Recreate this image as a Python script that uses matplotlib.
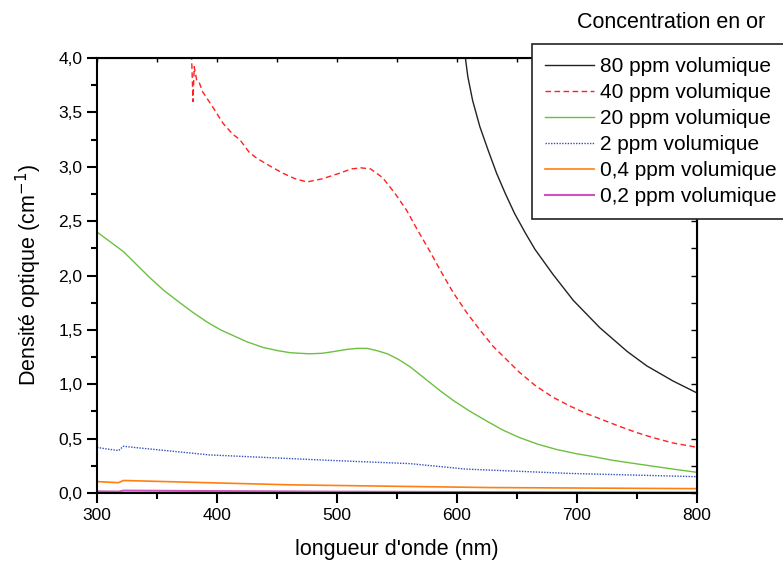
import matplotlib
matplotlib.use("Agg")
import matplotlib.pyplot as plt
from matplotlib.ticker import MultipleLocator, FuncFormatter

plt.rcParams['font.family'] = ['Liberation Sans', 'DejaVu Sans']

# 80 ppm (black)
wl_80 = [604, 607, 609, 613, 619, 626, 633, 640, 648, 657, 665, 680, 697, 719, 742, 758, 780, 800]
od_80 = [4.25, 4.0, 3.83, 3.61, 3.37, 3.15, 2.94, 2.76, 2.57, 2.39, 2.24, 2.01, 1.77, 1.52, 1.30,
         1.17, 1.03, 0.92]

# 40 ppm (red dashed)
wl_40 = [378, 379, 380, 381, 383, 385, 388, 397, 405, 413, 419, 427, 433, 442, 455, 465, 475, 488,
         502, 512, 520, 528, 538, 548, 558, 567, 577, 587, 597, 608, 619, 630, 641, 652, 665, 680,
         694, 708, 722, 736, 750, 763, 780, 800]
od_40 = [4.2, 3.95, 3.6, 3.92, 3.80, 3.78, 3.69, 3.54, 3.40, 3.30, 3.25, 3.13, 3.08, 3.02, 2.94,
         2.89, 2.86, 2.89, 2.94, 2.98, 2.99, 2.98, 2.90, 2.76, 2.60, 2.42, 2.23, 2.03, 1.84, 1.66,
         1.50, 1.35, 1.23, 1.11, 0.99, 0.88, 0.80, 0.73, 0.67, 0.61, 0.555, 0.51, 0.46, 0.42]

# 20 ppm (green)
wl_20 = [300, 311, 322, 333, 344, 356, 369, 380, 392, 403, 413, 425, 438, 450, 461, 477, 488, 497,
         508, 517, 525, 533, 542, 551, 561, 569, 578, 586, 597, 611, 625, 638, 652, 667, 683, 700,
         711, 730, 761, 780, 800]
od_20 = [2.40, 2.31, 2.22, 2.10, 1.98, 1.86, 1.75, 1.66, 1.57, 1.50, 1.45, 1.39, 1.34, 1.31, 1.29,
         1.28, 1.285, 1.30, 1.32, 1.33, 1.33, 1.31, 1.28, 1.23, 1.16, 1.09, 1.01, 0.94, 0.85, 0.75,
         0.66, 0.58, 0.51, 0.45, 0.40, 0.36, 0.34, 0.30, 0.25, 0.22, 0.19]

# 2 ppm (blue dotted)
wl_2 = [300, 305, 318, 322, 330, 394, 494, 561, 607, 694, 800]
od_2 = [0.42, 0.41, 0.39, 0.43, 0.42, 0.35, 0.30, 0.27, 0.22, 0.18, 0.15]

# 0,4 ppm (orange)
wl_04 = [300, 318, 322, 461, 627, 800]
od_04 = [0.105, 0.095, 0.115, 0.075, 0.05, 0.04]

# 0,2 ppm (pink)
wl_02 = [300, 318, 322, 500, 800]
od_02 = [0.015, 0.013, 0.022, 0.012, 0.004]

labels = ['80 ppm volumique', '40 ppm volumique', '20 ppm volumique',
          '2 ppm volumique', '0,4 ppm volumique', '0,2 ppm volumique']

fig = plt.figure(figsize=(7.83, 5.62), dpi=100)
ax = fig.add_axes([97 / 783, 1 - 493 / 562, 600 / 783, 435 / 562])

ax.plot(wl_80, od_80, color='#222222', lw=1.0, label=labels[0])
ax.plot(wl_40, od_40, color='#ff2020', lw=1.0, dashes=(4, 2.5), label=labels[1])
ax.plot(wl_20, od_20, color='#6cc040', lw=1.0, label=labels[2])
ax.plot(wl_2, od_2, color='#3050c0', lw=1.0, dashes=(1, 1), label=labels[3])
ax.plot(wl_04, od_04, color='#ff7f10', lw=1.2, label=labels[4])
ax.plot(wl_02, od_02, color='#cc55bb', lw=1.5, label=labels[5])

ax.set_xlim(300, 800)
ax.set_ylim(0, 4.0)
ax.xaxis.set_major_locator(MultipleLocator(100))
ax.xaxis.set_minor_locator(MultipleLocator(50))
ax.yaxis.set_major_locator(MultipleLocator(0.5))
ax.yaxis.set_minor_locator(MultipleLocator(0.25))
ax.yaxis.set_major_formatter(FuncFormatter(lambda v, p: ('%.1f' % v).replace('.', ',')))

for s in ax.spines.values():
    s.set_linewidth(1.5)
ax.tick_params(which='major', direction='out', length=7, width=1.5, labelsize=12.5)
ax.tick_params(which='minor', direction='out', length=4, width=1.5)

top = ax.secondary_xaxis('top')
top.xaxis.set_major_locator(MultipleLocator(50))
top.tick_params(which='both', direction='in', length=3, width=1.0, labeltop=False)
right = ax.secondary_yaxis('right')
right.yaxis.set_major_locator(MultipleLocator(0.25))
right.tick_params(which='both', direction='in', length=4, width=1.0, labelright=False)

ax.set_xlabel("longueur d'onde (nm)", fontsize=15.5, labelpad=12)
ax.set_ylabel("Densité optique (cm$^{-1}$)", fontsize=15.5, labelpad=10)

leg = ax.legend(loc='upper left', bbox_to_anchor=(532 / 783, 1 - 44 / 562),
                bbox_transform=fig.transFigure, fontsize=15, frameon=True, fancybox=False,
                handlelength=2.35, handletextpad=0.28, labelspacing=0.34, borderpad=0.62,
                borderaxespad=0)
leg.get_frame().set_edgecolor('#222222')
leg.get_frame().set_linewidth(1.2)
leg.get_frame().set_alpha(1.0)
fig.text(671 / 783, 1 - 22 / 562, 'Concentration en or', fontsize=15.5, ha='center', va='center')

fig.savefig('out.png', dpi=100)
